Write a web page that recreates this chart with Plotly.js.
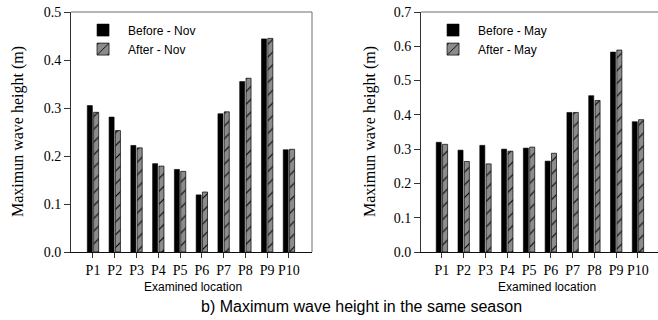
<!DOCTYPE html>
<html>
<head>
<meta charset="utf-8">
<script src="https://cdn.plot.ly/plotly-3.0.1.min.js"></script>
<style>html,body{margin:0;padding:0;background:#fff;}#chart{width:658px;height:320px;}</style>
</head>
<body>
<div id="chart"></div>
<script>
const locations = ['P1','P2','P3','P4','P5','P6','P7','P8','P9','P10'];
const beforeNov = [0.305, 0.281, 0.222, 0.184, 0.172, 0.119, 0.288, 0.355, 0.444, 0.213];
const afterNov  = [0.291, 0.253, 0.217, 0.179, 0.168, 0.125, 0.292, 0.362, 0.445, 0.214];
const beforeMay = [0.320, 0.297, 0.311, 0.300, 0.303, 0.265, 0.407, 0.456, 0.583, 0.380];
const afterMay  = [0.314, 0.264, 0.257, 0.294, 0.306, 0.288, 0.407, 0.442, 0.589, 0.386];
const yTicksNov = [0, 0.1, 0.2, 0.3, 0.4, 0.5];
const yTicksMay = [0, 0.1, 0.2, 0.3, 0.4, 0.5, 0.6, 0.7];

const solid = {color:'#000', line:{color:'#000', width:0.6}};
const hatched = {color:'#8c8c8c', line:{color:'#000', width:0.7},
  pattern:{shape:'/', bgcolor:'#8c8c8c', fgcolor:'#000', size:9, solidity:0.12}};

const traces = [
  {type:'bar', x:locations, y:beforeNov, name:'Before - Nov', marker:solid, xaxis:'x', yaxis:'y', legend:'legend'},
  {type:'bar', x:locations, y:afterNov, name:'After - Nov', marker:hatched, xaxis:'x', yaxis:'y', legend:'legend'},
  {type:'bar', x:locations, y:beforeMay, name:'Before - May', marker:solid, xaxis:'x2', yaxis:'y2', legend:'legend2'},
  {type:'bar', x:locations, y:afterMay, name:'After - May', marker:hatched, xaxis:'x2', yaxis:'y2', legend:'legend2'}
];

const serif = 'Liberation Serif, Times New Roman, serif';
const sans = 'Liberation Sans, Arial, sans-serif';

function xax(domain, range, anchor){
  return {domain:domain, range:range, anchor:anchor, type:'category',
    showline:true, linecolor:'#111', linewidth:1, ticks:'outside', ticklen:5, tickcolor:'#333',
    showgrid:false, zeroline:false, tickfont:{family:serif, size:14, color:'#000'}, fixedrange:true};
}
function yax(range, tv, anchor){
  return {range:range, anchor:anchor, tickvals:tv, tickformat:'.1f',
    showline:true, linecolor:'#333', linewidth:1, ticks:'outside', ticklen:6, tickcolor:'#333',
    showgrid:false, zeroline:false, tickfont:{family:serif, size:14, color:'#000'}, fixedrange:true};
}
const leftEnd = 241/587, rightStart = 350/587;
const frame = '#6e6e6e';
const layout = {
  width:658, height:320,
  margin:{l:71, r:0, t:12, b:68},
  paper_bgcolor:'#fff', plot_bgcolor:'#fff',
  barmode:'group', bargap:0.42, bargroupgap:0.2,
  showlegend:true,
  xaxis: xax([0, leftEnd], [-1.01, 10.06], 'y'),
  yaxis: yax([0, 0.5], yTicksNov, 'x'),
  xaxis2: xax([rightStart, 1], [-0.96, 9.92], 'y2'),
  yaxis2: yax([0, 0.7], yTicksMay, 'x2'),
  legend:{x:0.012, y:0.985, xanchor:'left', yanchor:'top', bgcolor:'rgba(0,0,0,0)',
    font:{family:sans, size:12, color:'#000'}, itemwidth:40, tracegroupgap:0, traceorder:'normal'},
  legend2:{x:rightStart+0.012, y:0.985, xanchor:'left', yanchor:'top', bgcolor:'rgba(0,0,0,0)',
    font:{family:sans, size:12, color:'#000'}, itemwidth:40, tracegroupgap:0, traceorder:'normal'},
  shapes:[
    {type:'line', xref:'x domain', yref:'y domain', x0:0, x1:1, y0:1, y1:1, line:{color:frame, width:1}},
    {type:'line', xref:'x domain', yref:'y domain', x0:1, x1:1, y0:0, y1:1, line:{color:frame, width:1}},
    {type:'line', xref:'x2 domain', yref:'y2 domain', x0:0, x1:1, y0:1, y1:1, line:{color:frame, width:1}}
  ],
  annotations:[
    {text:'Maximun wave height (m)', textangle:-90, xref:'paper', yref:'paper', x:(18-71)/587, y:0.5,
      xanchor:'center', yanchor:'middle', showarrow:false, font:{family:serif, size:16, color:'#000'}},
    {text:'Maximun wave height (m)', textangle:-90, xref:'paper', yref:'paper', x:(370-71)/587, y:0.5,
      xanchor:'center', yanchor:'middle', showarrow:false, font:{family:serif, size:16, color:'#000'}},
    {text:'Examined location', xref:'paper', yref:'paper', x:(193-71)/587, y:(252-287)/240,
      xanchor:'center', yanchor:'middle', showarrow:false, font:{family:sans, size:12, color:'#000'}},
    {text:'Examined location', xref:'paper', yref:'paper', x:(547-71)/587, y:(252-287)/240,
      xanchor:'center', yanchor:'middle', showarrow:false, font:{family:sans, size:12, color:'#000'}},
    {text:'b) Maximum wave height in the same season', xref:'paper', yref:'paper', x:(361-71)/587, y:(252-306)/240,
      xanchor:'center', yanchor:'middle', showarrow:false, font:{family:sans, size:16, color:'#000'}}
  ]
};
Plotly.newPlot('chart', traces, layout, {displayModeBar:false, staticPlot:true});
</script>
</body>
</html>
